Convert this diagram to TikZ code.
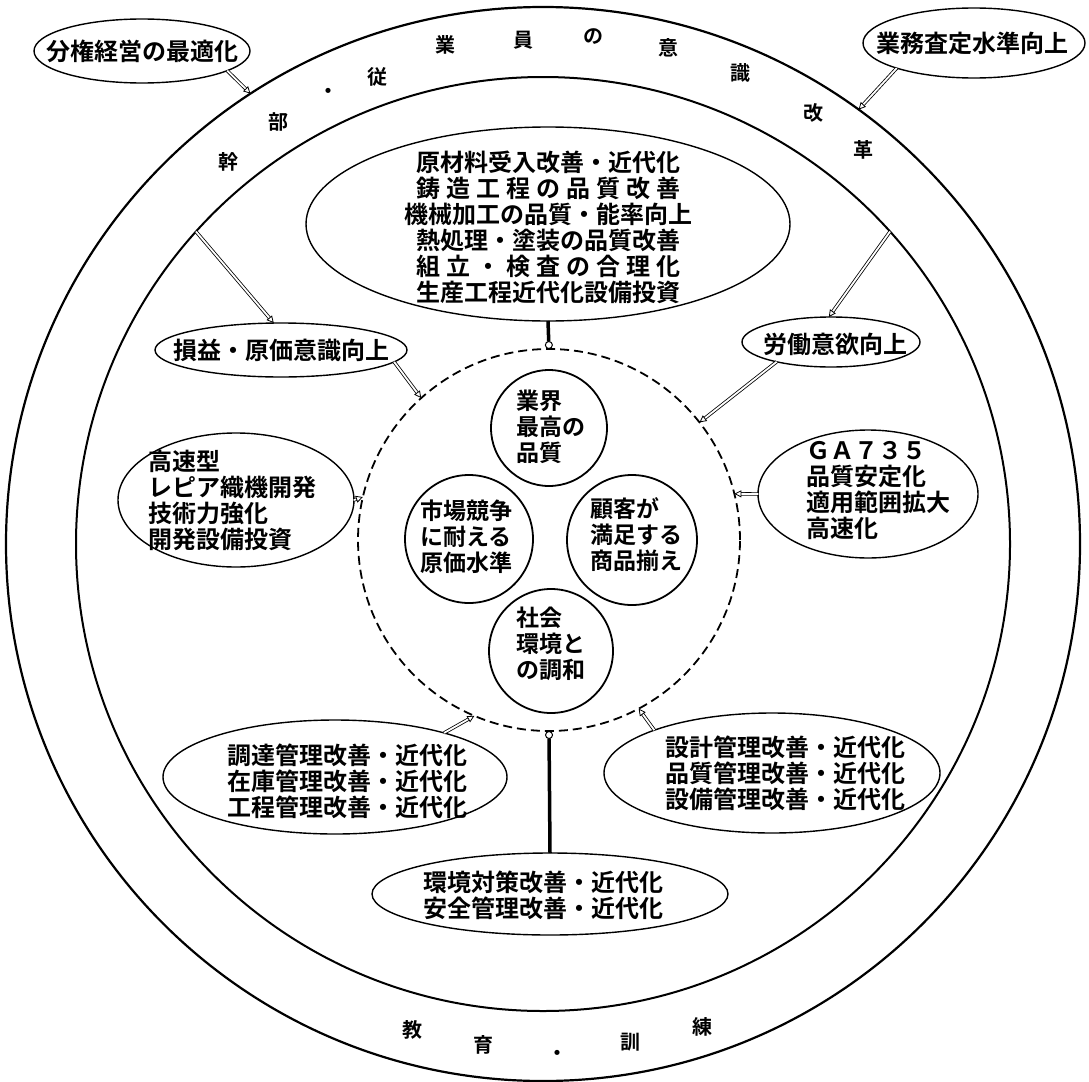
\documentclass[tikz,border=0pt]{standalone}
\usepackage{fontspec}
\setmainfont{Noto Sans CJK JP}[BoldFont={* Bold}]
\usetikzlibrary{shapes.geometric,arrows.meta}
\newcommand{\sprline}[1]{\makebox[264pt][s]{#1}}
\begin{document}
\begin{tikzpicture}[x=1pt,y=-1pt,
  ring/.style={draw, circle, inner sep=0pt, outer sep=0pt},
  ell/.style={draw, ellipse, line width=1.4pt, inner sep=0pt, outer sep=0pt},
  goal/.style={draw, circle, line width=1.8pt, inner sep=0pt, outer sep=0pt},
  txt/.style={align=center, inner sep=0pt, font=\fontsize{24}{26}\selectfont\bfseries},
  ltxt/.style={align=left, inner sep=0pt, font=\fontsize{24}{26}\selectfont\bfseries},
  gtxt/.style={align=left, inner sep=0pt, font=\fontsize{23}{26}\selectfont\bfseries},
  ringtxt/.style={inner sep=0pt, font=\fontsize{20}{20}\selectfont\bfseries},
  conn/.style={double, double distance=1.8pt, line width=0.8pt, -{Triangle[open,length=7pt,width=7pt,line width=0.8pt]}},
  thickconn/.style={line width=3.5pt, -{Circle[open,length=8pt,width=8pt,line width=1pt]}}
]
\useasboundingbox (0,0) rectangle (1089,1081);

% rings
\node[ring, line width=2.2pt, minimum size=1074pt] (outer) at (543,544) {};
\node[ring, line width=2pt, minimum size=934pt] (inner) at (543,544) {};

% ring texts (top)
\node[ringtxt] (r1) at (228,162) {幹};
\node[ringtxt] (r2) at (278,122) {部};
\node[ringtxt] (r3) at (328,93) {・};
\node[ringtxt] (r4) at (377,77) {従};
\node[ringtxt] (r5) at (445,45) {業};
\node[ringtxt] (r6) at (523,40) {員};
\node[ringtxt] (r7) at (593,37) {の};
\node[ringtxt] (r8) at (668,48) {意};
\node[ringtxt] (r9) at (740,73) {識};
\node[ringtxt] (r10) at (813,113) {改};
\node[ringtxt] (r11) at (863,150) {革};
% ring texts (bottom)
\node[ringtxt] (b1) at (412,1030) {教};
\node[ringtxt] (b2) at (483,1045) {育};
\node[ringtxt] (b3) at (557,1055) {・};
\node[ringtxt] (b4) at (630,1042) {訓};
\node[ringtxt] (b5) at (702,1027) {練};

% core dashed circle and goals
\node[ring, line width=1.8pt, dash pattern=on 9pt off 5pt, minimum size=382pt] (core) at (549,540) {};
\node[goal, minimum size=116pt, label={[gtxt, xshift=2pt, yshift=1pt]center:{業界\\最高の\\品質}}] (q) at (549,428) {};
\node[goal, minimum size=128pt, label={[gtxt, xshift=-3pt, yshift=2pt]center:{市場競争\\に耐える\\原価水準}}] (c) at (469,539) {};
\node[goal, minimum size=130pt, label={[gtxt, xshift=4pt, yshift=5pt]center:{顧客が\\満足する\\商品揃え}}] (s) at (632,540) {};
\node[goal, minimum size=124pt, label={[gtxt, xshift=0pt, yshift=7pt]center:{社会\\環境と\\の調和}}] (e) at (551,651) {};

% ellipses
\node[ell, minimum width=216pt, minimum height=64pt, label={[txt]center:{分権経営の最適化}}] (decen) at (142,51) {};
\node[ell, minimum width=222pt, minimum height=70pt, label={[txt, xshift=-2pt]center:{業務査定水準向上}}] (assess) at (974,43) {};
\node[ell, minimum width=484pt, minimum height=194pt, label={[txt, yshift=-3pt]center:{%
  \sprline{原材料受入改善・近代化}\\
  \sprline{鋳\hfill 造\hfill 工\hfill 程\hfill の\hfill 品\hfill 質\hfill 改\hfill 善}\\
  機械加工の品質・能率向上\\
  \sprline{熱処理・塗装の品質改善}\\
  \sprline{組\hfill 立\hfill ・\hfill 検\hfill 査\hfill の\hfill 合\hfill 理\hfill 化}\\
  \sprline{生産工程近代化設備投資}}}] (prod) at (548,224) {};
\node[ell, minimum width=252pt, minimum height=54pt, label={[txt]center:{損益・原価意識向上}}] (loss) at (281,350) {};
\node[ell, minimum width=178pt, minimum height=50pt, label={[txt, xshift=4pt, yshift=-2pt]center:{労働意欲向上}}] (labor) at (831,342) {};
\node[ell, minimum width=236pt, minimum height=134pt, label={[ltxt, xshift=-4pt]center:{高速型\\レピア織機開発\\技術力強化\\開発設備投資}}] (loom) at (236,500) {};
\node[ell, minimum width=220pt, minimum height=128pt, label={[ltxt, xshift=10pt, yshift=3pt]center:{ＧＡ７３５\\品質安定化\\適用範囲拡大\\高速化}}] (ga) at (868,494) {};
\node[ell, minimum width=344pt, minimum height=114pt, label={[txt, xshift=12pt, yshift=-4pt]center:{調達管理改善・近代化\\在庫管理改善・近代化\\工程管理改善・近代化}}] (proc) at (335,777) {};
\node[ell, minimum width=336pt, minimum height=120pt, label={[txt, xshift=13pt]center:{設計管理改善・近代化\\品質管理改善・近代化\\設備管理改善・近代化}}] (design) at (772,773) {};
\node[ell, minimum width=356pt, minimum height=82pt, label={[txt, xshift=-7pt, yshift=-1pt]center:{環境対策改善・近代化\\安全管理改善・近代化}}] (env) at (550,894) {};

% connectors
\draw[conn] (decen.-13) -- (outer.123);
\draw[conn] (assess.198) -- (outer.54);
\draw[conn] (inner.138) -- (loss.105);
\draw[conn] (inner.42) -- (labor.95);
\draw[conn] (loss.-6) -- (core.132);
\draw[conn] (loom.east) -- (core.167);
\draw[conn] (labor.200) -- (core.38);
\draw[conn] (ga.west) -- (core.14);
\draw[conn] (proc.22) -- (core.247);
\draw[conn] (design.160) -- (core.298);
\draw[thickconn] (prod.south) -- (core.north);
\draw[thickconn] (env.north) -- (core.south);
\end{tikzpicture}
\end{document}
